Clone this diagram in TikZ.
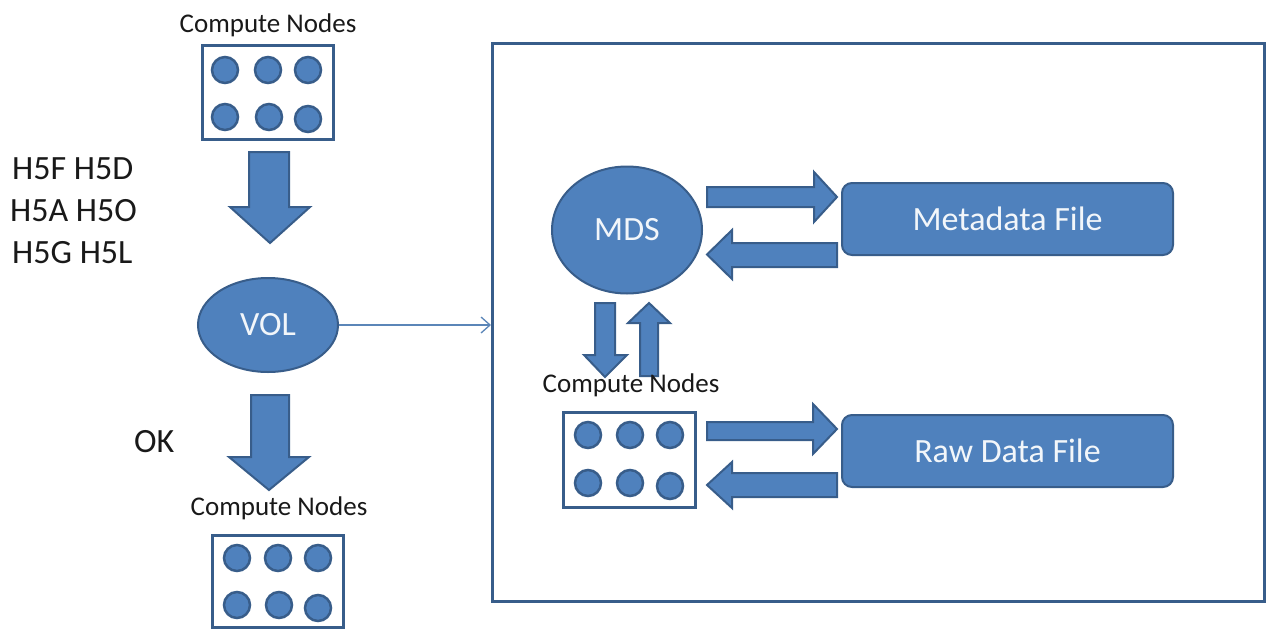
\documentclass[tikz,border=0pt]{standalone}
\usepackage{fontspec}
\setmainfont{Carlito}
\usetikzlibrary{arrows.meta,shapes.geometric}
\definecolor{fillb}{HTML}{4F81BD}
\definecolor{edgeb}{HTML}{385D8A}
\definecolor{txtw}{HTML}{F2F6FA}
\definecolor{thinb}{HTML}{5B86B8}
\begin{document}
\begin{tikzpicture}[x=1pt,y=-1pt,
  blk/.style={fill=fillb, draw=edgeb, line width=2pt, line join=miter},
  dot/.style={circle, fill=fillb, draw=edgeb, line width=2.5pt, minimum size=26pt, inner sep=0pt},
  cbox/.style={draw=edgeb, line width=3pt, fill=white, minimum width=131pt, minimum height=94pt, inner sep=0pt},
  lbl/.style={font=\fontsize{27}{32}\selectfont, text=black!90, anchor=base, inner sep=0pt},
  btxt/.style={font=\fontsize{34}{40}\selectfont, text=black!90, anchor=base west, inner sep=0pt},
  wtxt/.style={text=txtw, font=\fontsize{34}{40}\selectfont},
  oval/.style={ellipse, fill=fillb, draw=edgeb, line width=2pt, inner sep=0pt},
  fileb/.style={rectangle, rounded corners=10pt, fill=fillb, draw=edgeb, line width=2pt, minimum width=331pt, minimum height=72pt, inner sep=0pt}]
\useasboundingbox (0,0) rectangle (1267,632);

% frame
\node[draw=edgeb, line width=3pt, minimum width=772pt, minimum height=558pt, inner sep=0pt, anchor=north west] (frame) at (491,42) {};

% left column
\node[lbl] (lblT) at (268,32) {Compute Nodes};
\node[cbox] (boxT) at (267.5,92.5) {};
\foreach \x/\y [count=\i] in {225/70,268/70,308/70,225/117,269/117,308/119}
  \node[dot] (dT\i) at (\x,\y) {};

\draw[blk] (249,152) -- (289,152) -- (289,207) -- (310,207) -- (270,243) -- (230,207) -- (249,207) -- cycle;

\node[btxt] (h1) at (12,179) {H5F H5D};
\node[btxt] (h2) at (10,221) {H5A H5O};
\node[btxt] (h3) at (12,263) {H5G H5L};

\node[oval, minimum width=140pt, minimum height=94pt, wtxt] (vol) at (268,325) {VOL};

\draw[blk] (251,395) -- (289,395) -- (289,457) -- (309,457) -- (269,490) -- (229,457) -- (251,457) -- cycle;
\node[btxt] (ok) at (134,452) {OK};

\node[lbl] (lblB) at (279,515) {Compute Nodes};
\node[cbox, minimum height=92pt] (boxB) at (277.5,581) {};
\foreach \x/\y [count=\i] in {237/558,278/558,318/558,237/605,279/605,318/608}
  \node[dot] (dB\i) at (\x,\y) {};

% connector VOL -> frame
\draw[thinb, line width=1.3pt, -{Straight Barb[length=9pt,width=16pt,line width=1.3pt]}] (vol.east) -- (vol.east -| frame.west);

% inside frame
\node[oval, minimum width=150pt, minimum height=127pt, wtxt] (mds) at (627,230) {MDS};
\node[fileb, wtxt] (meta) at (1007.5,219) {Metadata File};
\node[fileb, wtxt] (raw) at (1007.5,451) {Raw Data File};

\draw[blk] (707,187) -- (814,187) -- (814,172) -- (837,197) -- (814,222) -- (814,207) -- (707,207) -- cycle;
\draw[blk] (837,243) -- (732,243) -- (732,230) -- (707,254.5) -- (732,279) -- (732,267) -- (837,267) -- cycle;

\draw[blk] (595,303) -- (615,303) -- (615,355) -- (627,355) -- (605,377) -- (584,355) -- (595,355) -- cycle;
\draw[blk] (640,376) -- (658,376) -- (658,323) -- (670,323) -- (649,303) -- (628,323) -- (640,323) -- cycle;

\node[lbl] (lblM) at (631,392) {Compute Nodes};
\node[cbox, minimum width=132pt, minimum height=95pt] (boxM) at (629,459.5) {};
\foreach \x/\y [count=\i] in {588/435,630/435,670/435,588/483,630/483,670/486}
  \node[dot] (dM\i) at (\x,\y) {};

\draw[blk] (707,422) -- (813,422) -- (813,404) -- (837,429) -- (813,454) -- (813,440) -- (707,440) -- cycle;
\draw[blk] (837,473) -- (732,473) -- (732,462) -- (707,485) -- (732,508) -- (732,497) -- (837,497) -- cycle;
\end{tikzpicture}
\end{document}
